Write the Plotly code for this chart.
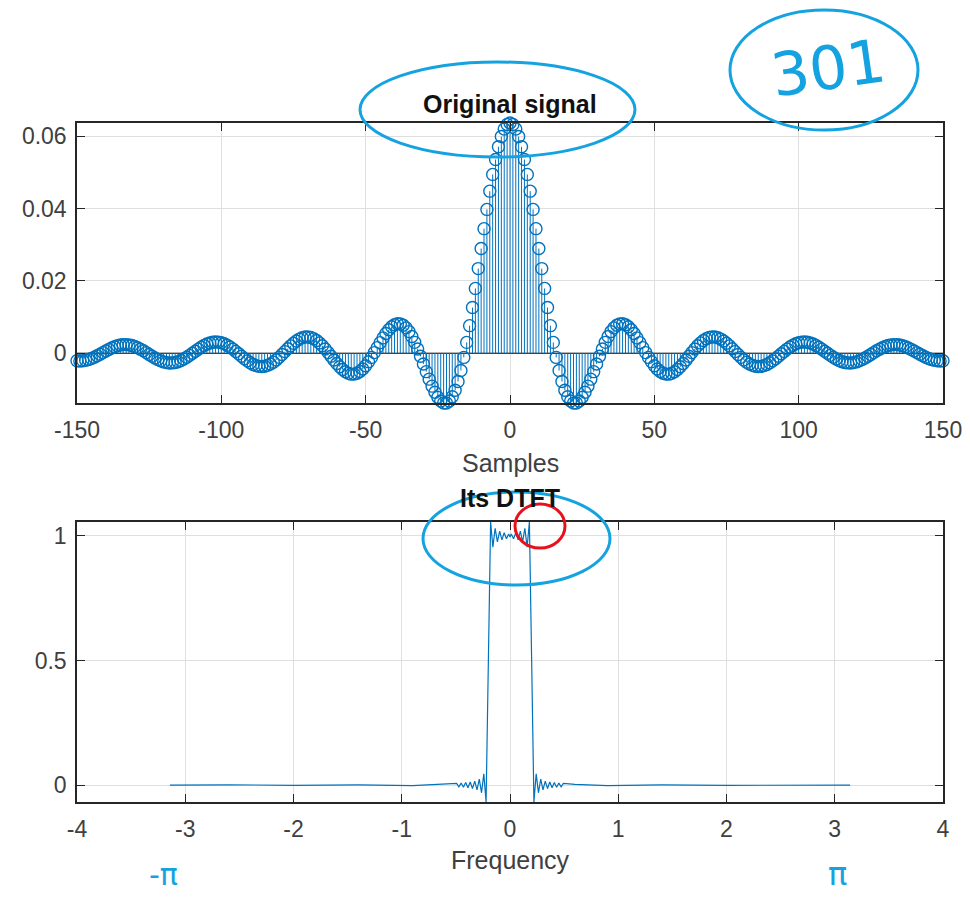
import plotly.graph_objects as go

# ---------------- data ----------------
samples = list(range(-150, 151))

# sample values for n = 0 .. 150 (signal is symmetric about n = 0)
amp_right = [
    0.063662, 0.063238, 0.061977, 0.059911, 0.057085, 0.053570, 0.049446, 0.044811, 0.039772, 0.034443,
    0.028944, 0.023396, 0.017917, 0.012622, 0.007616, 0.002995, -0.001161, -0.004785, -0.007825, -0.010251,
    -0.012045, -0.013211, -0.013769, -0.013753, -0.013212, -0.012209, -0.010816, -0.009110, -0.007176, -0.005100,
    -0.002965, -0.000853, 0.001159, 0.003005, 0.004626, 0.005975, 0.007018, 0.007732, 0.008108, 0.008150,
    0.007873, 0.007304, 0.006477, 0.005437, 0.004232, 0.002915, 0.001542, 0.000168, -0.001156, -0.002381,
    -0.003463, -0.004368, -0.005067, -0.005542, -0.005782, -0.005787, -0.005566, -0.005134, -0.004516, -0.003742,
    -0.002847, -0.001869, -0.000850, 0.000170, 0.001151, 0.002058, 0.002855, 0.003517, 0.004022, 0.004354,
    0.004505, 0.004474, 0.004269, 0.003902, 0.003391, 0.002760, 0.002037, 0.001253, 0.000440, -0.000370,
    -0.001146, -0.001857, -0.002477, -0.002985, -0.003363, -0.003600, -0.003690, -0.003632, -0.003432, -0.003102,
    -0.002656, -0.002116, -0.001504, -0.000845, -0.000168, 0.000502, 0.001138, 0.001716, 0.002215, 0.002617,
    0.002906, 0.003075, 0.003120, 0.003041, 0.002843, 0.002536, 0.002135, 0.001658, 0.001124, 0.000555,
    -0.000026, -0.000595, -0.001130, -0.001611, -0.002020, -0.002342, -0.002566, -0.002685, -0.002695, -0.002600,
    -0.002402, -0.002113, -0.001745, -0.001315, -0.000838, -0.000337, 0.000170, 0.000662, 0.001120, 0.001527,
    0.001867, 0.002129, 0.002301, 0.002380, 0.002364, 0.002255, 0.002058, 0.001782, 0.001440, 0.001046,
    0.000616, 0.000168, -0.000281, -0.000712, -0.001109, -0.001457, -0.001742, -0.001954, -0.002086, -0.002134,
    -0.002097,
]
amplitude = amp_right[:0:-1] + amp_right

# DTFT, read for the negative-frequency half (spectrum is even)
freq_left = [
    -3.1416, -2.6, -2.0, -1.4, -0.9, -0.6,
    -0.4932, -0.4723, -0.4513, -0.4304, -0.4094, -0.3885, -0.3676, -0.3466,
    -0.3257, -0.3047, -0.2838, -0.2628, -0.2419, -0.2209, -0.2000,
    -0.1791, -0.1582, -0.1373, -0.1164, -0.0955, -0.0746, -0.0537, -0.0328, -0.0119, 0.0,
]
dtft_left = [
    0.000, 0.001, -0.001, 0.001, -0.002, 0.003,
    0.007, -0.0075, 0.008, -0.009, 0.010, -0.011, 0.012, -0.014,
    0.016, -0.019, 0.024, -0.031, 0.045, -0.068, 0.500,
    1.056, 0.955, 1.031, 0.976, 1.019, 0.984, 1.013, 0.989, 1.008, 0.996,
]
frequency = freq_left + [-f for f in freq_left[-2::-1]]
dtft = dtft_left + dtft_left[-2::-1]

top_xticks = [-150, -100, -50, 0, 50, 100, 150]
top_xticklabels = ["-150", "-100", "-50", "0", "50", "100", "150"]
top_yticks = [0, 0.02, 0.04, 0.06]
top_yticklabels = ["0", "0.02", "0.04", "0.06"]
bot_xticks = [-4, -3, -2, -1, 0, 1, 2, 3, 4]
bot_xticklabels = ["-4", "-3", "-2", "-1", "0", "1", "2", "3", "4"]
bot_yticks = [0, 0.5, 1]
bot_yticklabels = ["0", "0.5", "1"]

# ---------------- layout helpers ----------------
W, H = 970, 899
L, R, T, B = 77, 27, 123, 97
PW, PH = W - L - R, H - T - B


def px(x):
    return (x - L) / PW


def py(y):
    return (H - B - y) / PH


BLUE = "#0072BD"
AXC = "#262626"
FONT = "Liberation Sans, Arial, Helvetica, sans-serif"
INK = "#14a3e0"

fig = go.Figure()

# stem baseline
fig.add_trace(go.Scatter(x=[samples[0], samples[-1]], y=[0, 0], mode="lines",
                         line=dict(color="#000000", width=1), showlegend=False,
                         hoverinfo="skip", xaxis="x", yaxis="y"))
# stems
sx, sy = [], []
for n, v in zip(samples, amplitude):
    sx += [n, n, None]
    sy += [0, v, None]
fig.add_trace(go.Scatter(x=sx, y=sy, mode="lines", line=dict(color=BLUE, width=1),
                         showlegend=False, hoverinfo="skip", xaxis="x", yaxis="y"))
# stem heads
fig.add_trace(go.Scatter(x=samples, y=amplitude, mode="markers",
                         marker=dict(symbol="circle-open", size=12, color=BLUE,
                                     line=dict(width=1.4, color=BLUE)),
                         cliponaxis=False, showlegend=False, xaxis="x", yaxis="y"))
# DTFT
fig.add_trace(go.Scatter(x=frequency, y=dtft, mode="lines",
                         line=dict(color=BLUE, width=1.2), showlegend=False,
                         xaxis="x2", yaxis="y2"))

axis_common = dict(showline=True, linecolor=AXC, linewidth=1.5, mirror="ticks",
                   ticks="inside", ticklen=8, tickwidth=1.3, tickcolor=AXC,
                   showgrid=True, gridcolor="rgb(223,223,223)", gridwidth=1,
                   zeroline=False,
                   tickfont=dict(family=FONT, size=23, color="#404040"))

fig.update_layout(
    width=W, height=H,
    margin=dict(l=L, r=R, t=T, b=B, autoexpand=False),
    paper_bgcolor="white", plot_bgcolor="white",
    showlegend=False,
    xaxis=dict(domain=[0, 1], range=[-150, 150], tickvals=top_xticks, ticktext=top_xticklabels,
               anchor="y", ticklabelstandoff=6, **axis_common),
    yaxis=dict(domain=[py(403), 1], range=[-0.013769, 0.063662], tickvals=top_yticks,
               ticktext=top_yticklabels, anchor="x", ticklabelstandoff=4, **axis_common),
    xaxis2=dict(domain=[0, 1], range=[-4, 4], tickvals=bot_xticks, ticktext=bot_xticklabels,
                anchor="y2", ticklabelstandoff=6, **axis_common),
    yaxis2=dict(domain=[0, py(522)], range=[-0.068, 1.056], tickvals=bot_yticks,
                ticktext=bot_yticklabels, anchor="x2", ticklabelstandoff=4, **axis_common),
)

ann = [
    dict(text="<b>Original signal</b>", x=0.5, y=py(104), font=dict(size=25, color="#111111")),
    dict(text="Samples", x=0.5, y=py(463), font=dict(size=25, color="#404040")),
    dict(text="<b>Its DTFT</b>", x=0.5, y=py(498), font=dict(size=25, color="#111111")),
    dict(text="Frequency", x=0.5, y=py(860), font=dict(size=25, color="#404040")),
]
for a in ann:
    a.update(xref="paper", yref="paper", showarrow=False, xanchor="center", yanchor="middle")
    a["font"]["family"] = FONT
    fig.add_annotation(**a)

# hand-written marks on the reference
hand = [
    dict(text="301", x=px(828), y=py(68), font=dict(size=60, color=INK, family="DejaVu Sans"),
         textangle=-8),
    dict(text="-π", x=px(163), y=py(874), font=dict(size=30, color=INK, family="DejaVu Sans")),
    dict(text="π", x=px(837), y=py(874), font=dict(size=32, color=INK, family="DejaVu Sans")),
]
for a in hand:
    a.update(xref="paper", yref="paper", showarrow=False, xanchor="center", yanchor="middle")
    fig.add_annotation(**a)

ellipses = [
    (360, 62, 635, 157, INK),
    (730, 10, 918, 130, INK),
    (423, 492, 610, 585, INK),
    (515, 504, 565, 548, "#e8101a"),
]
for x0, y0, x1, y1, c in ellipses:
    fig.add_shape(type="circle", xref="paper", yref="paper",
                  x0=px(x0), x1=px(x1), y0=py(y1), y1=py(y0),
                  line=dict(color=c, width=3), layer="above")

fig.write_html("out.html", config={"displayModeBar": False},
               post_script="document.body.style.margin='0';document.body.style.overflow='hidden';")
